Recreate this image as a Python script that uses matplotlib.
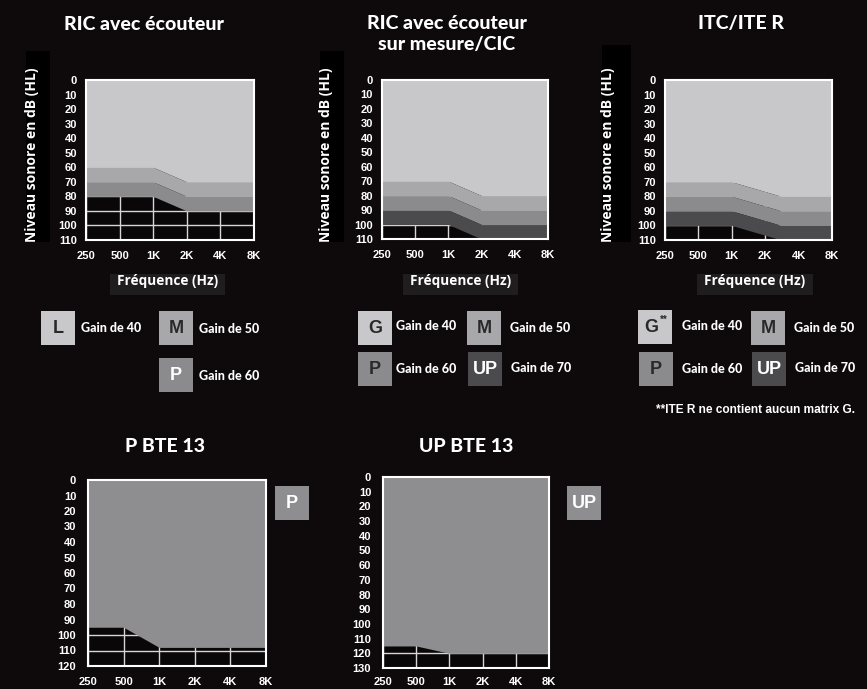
import numpy as np
import matplotlib.pyplot as plt
from matplotlib.patches import Rectangle

W, H = 867, 689
BG = '#0e0a0b'
LIGHT = '#c8c8ca'
MID = '#a8a8aa'
DARK = '#8b8b8d'
DEEP = '#4b4b4d'
BTE = '#8e8e90'

freq_ticks = [250, 500, 1000, 2000, 4000, 8000]
freq_labels = ['250', '500', '1K', '2K', '4K', '8K']

# RIC avec ecouteur (lower limit of each band, dB HL)
ric_freq = [250, 1000, 2000, 8000]
ric_L = [60, 60, 70, 70]
ric_M = [70, 70, 80, 80]
ric_P = [80, 80, 90, 90]

# RIC avec ecouteur sur mesure / CIC
cic_freq = [250, 1000, 2000, 8000]
cic_G = [70, 70, 80, 80]
cic_M = [80, 80, 90, 90]
cic_P = [90, 90, 100, 100]
cic_UP = [100, 100, 110, 110]

# ITC / ITE R
ite_freq = [250, 1000, 2800, 8000]
ite_G = [70, 70, 80, 80]
ite_M = [80, 80, 90, 90]
ite_P = [90, 90, 100, 100]
ite_UP = [100, 100, 110, 110]

# BTE 13
pbte_freq = [250, 500, 1000, 8000]
pbte_P = [95, 95, 108, 108]
upbte_freq = [250, 500, 1000, 8000]
upbte_UP = [115, 115, 120, 120]

TITLE_FONT = ['Lato', 'DejaVu Sans']
TICK_FONT = ['Liberation Sans', 'DejaVu Sans']
LAB_FONT = ['Open Sans', 'DejaVu Sans']
TXT_DARK = '#2a2829'

# tick labels: Arial-like bold
plt.rcParams['font.family'] = TICK_FONT
plt.rcParams['font.weight'] = 'bold'

fig = plt.figure(figsize=(W / 100, H / 100), dpi=100)
fig.patch.set_facecolor(BG)


def px_axes(x0, y0, x1, y1, **kw):
    return fig.add_axes([x0 / W, 1 - y1 / H, (x1 - x0) / W, (y1 - y0) / H], **kw)


def audiogram(box, freq, bands, colors, ymax, ypad=6.5, xpad=8):
    ax = px_axes(*box)
    ax.set_facecolor('#0a0708')
    ax.set_xscale('log', base=2)
    ax.set_xlim(250, 8000)
    ax.set_ylim(ymax, 0)
    ax.set_yticks(range(0, ymax + 1, 10))
    ax.set_xticks(freq_ticks, freq_labels)
    ax.minorticks_off()
    ax.grid(True, color='#d6d6d6', lw=1)
    ax.set_axisbelow(True)
    lower = [0] * len(freq)
    for b, c in zip(bands, colors):
        ax.fill_between(freq, lower, b, color=c, lw=0, zorder=2)
        lower = b
    for s in ax.spines.values():
        s.set_color('white')
        s.set_linewidth(1.5)
        s.set_zorder(4)
    ax.tick_params(length=0, colors='white', labelsize=8)
    ax.tick_params(axis='y', pad=ypad)
    ax.tick_params(axis='x', pad=xpad)
    return ax


audiogram((86, 80, 254, 240), ric_freq, [ric_L, ric_M, ric_P], [LIGHT, MID, DARK], 110)
audiogram((382, 80, 548, 239), cic_freq, [cic_G, cic_M, cic_P, cic_UP], [LIGHT, MID, DARK, DEEP], 110)
audiogram((665, 80, 832, 240), ite_freq, [ite_G, ite_M, ite_P, ite_UP], [LIGHT, MID, DARK, DEEP], 110)
audiogram((88, 480, 266, 666), pbte_freq, [pbte_P], [BTE], 120, ypad=8.5, xpad=8)
audiogram((383, 477, 549, 668), upbte_freq, [upbte_UP], [BTE], 130, ypad=8.5, xpad=6.5)

# overlay in pixel coordinates for titles, labels and legends
ov = fig.add_axes([0, 0, 1, 1], zorder=10)
ov.set_xlim(0, W)
ov.set_ylim(H, 0)
ov.axis('off')
ov.patch.set_alpha(0)

titles = [(144, 24, 'RIC avec écouteur'), (447, 34, 'RIC avec écouteur\nsur mesure/CIC'),
          (741, 24, 'ITC/ITE R'), (165, 446, 'P BTE 13'), (466, 446, 'UP BTE 13')]
for x, y, t in titles:
    ov.text(x, y, t, color='white', fontsize=14, fontweight='black', family=TITLE_FONT,
            ha='center', va='center', linespacing=1.3)

# y labels on black strips
for rx0, ry0, rx1, tx in [(26, 51, 50, 32), (320, 51, 344, 326), (602, 45, 631, 608)]:
    ov.add_patch(Rectangle((rx0, ry0), rx1 - rx0, 242 - ry0, color='black', lw=0))
    ov.text(tx, 242, 'Niveau sonore en dB (HL)', rotation=90, color='white', fontsize=10,
            fontweight='bold', family=LAB_FONT, ha='center', va='bottom')

# x labels on grey strips
for rx0, rx1 in [(110, 225), (403, 518), (697, 813)]:
    ov.add_patch(Rectangle((rx0, 274), rx1 - rx0, 21, color='#1f1d1e', lw=0))
    ov.text((rx0 + rx1) / 2, 281, 'Fréquence (Hz)', color='white', fontsize=9.8,
            fontweight='bold', family=LAB_FONT, ha='center', va='center')


def legend_box(x, y, letter, color, textcolor, label=None, lx=None, ly=None, dx=0):
    ov.add_patch(Rectangle((x, y), 34, 34, color=color, lw=0))
    ov.text(x + 17 + dx, y + 17.5, letter, color=textcolor, fontsize=13, fontweight='bold',
            family=TICK_FONT, ha='center', va='center')
    if label:
        ov.text(lx, ly, label, color='white', fontsize=9, fontweight='black',
                family=TITLE_FONT, ha='left', va='center')


legend_box(41, 311, 'L', LIGHT, TXT_DARK, 'Gain de 40', 81, 328)
legend_box(159, 311, 'M', MID, TXT_DARK, 'Gain de 50', 199, 329)
legend_box(159, 358, 'P', DARK, 'white', 'Gain de 60', 199, 376)

legend_box(358, 311, 'G', LIGHT, TXT_DARK, 'Gain de 40', 396, 326)
legend_box(467, 311, 'M', MID, TXT_DARK, 'Gain de 50', 510, 328)
legend_box(358, 352, 'P', DARK, TXT_DARK, 'Gain de 60', 396, 369)
legend_box(468, 352, 'UP', DEEP, 'white', 'Gain de 70', 511, 368)

legend_box(638, 310, 'G', LIGHT, TXT_DARK, 'Gain de 40', 682, 326, dx=-4)
ov.text(660, 320, '**', color=TXT_DARK, fontsize=7, fontweight='bold', family=TICK_FONT,
        ha='left', va='center')
legend_box(751, 311, 'M', MID, TXT_DARK, 'Gain de 50', 794, 328)
legend_box(639, 352, 'P', DARK, TXT_DARK, 'Gain de 60', 682, 369)
legend_box(752, 352, 'UP', DEEP, 'white', 'Gain de 70', 795, 368)

ov.text(855, 410, '**ITE R ne contient aucun matrix G.', color='white', fontsize=8.6,
        fontweight='bold', family=['Liberation Sans Narrow', 'Liberation Sans'],
        fontstretch='condensed', ha='right', va='center')

legend_box(275, 486, 'P', BTE, 'white')
legend_box(567, 486, 'UP', BTE, 'white')

fig.savefig('out.png', dpi=100, facecolor=BG)
